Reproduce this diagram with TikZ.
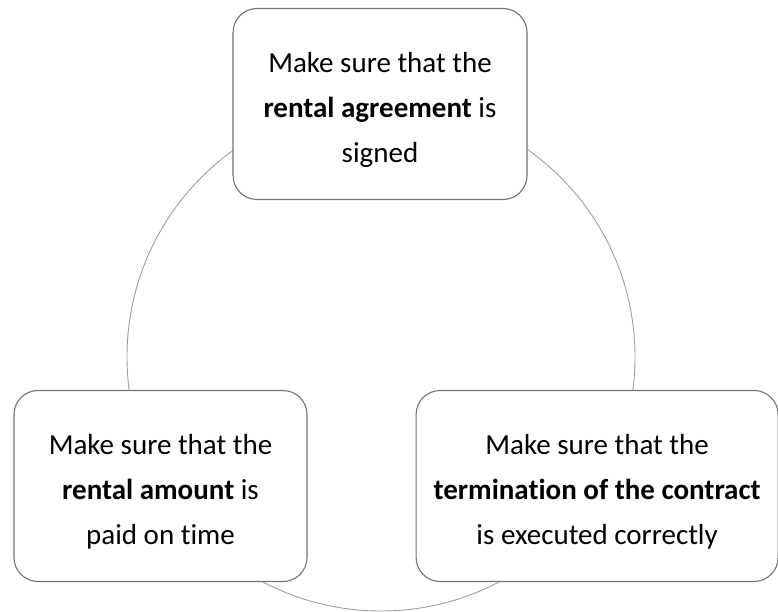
\documentclass[tikz,border=0pt]{standalone}
\usepackage{fontspec}
\setmainfont{Carlito}[Ligatures=CommonOff]
\usetikzlibrary{positioning}

\newcommand{\topgap}{\rule{0pt}{31pt}}

\begin{document}
\begin{tikzpicture}[
  x=1pt, y=-1pt,
  font=\fontsize{29}{45}\selectfont,
  node distance=108pt,
  stage/.style={draw=black!55, fill=white, rectangle, rounded corners=24pt, line width=1.1pt, minimum height=191pt, align=center, inner sep=0pt},
  ring/.style={draw=black!38, line width=0.9pt}
]
  \useasboundingbox (0,0) rectangle (778,612);

  % Círculo detrás de las tres etapas
  \draw[ring] (381,357) circle[radius=254];

  % Etapas del contrato
  \node[stage, minimum width=294pt] (signing) at (380,104) {\topgap Make sure that the\\\textbf{rental agreement} is\\signed};
  \node[stage, minimum width=293pt] (payment) at (160.5,486) {\topgap Make sure that the\\\textbf{rental amount} is\\paid on time};
  \node[stage, minimum width=362pt, right=of payment] (ending) {\topgap Make sure that the\\\textbf{termination of the contract}\\is executed correctly};

\end{tikzpicture}
\end{document}
